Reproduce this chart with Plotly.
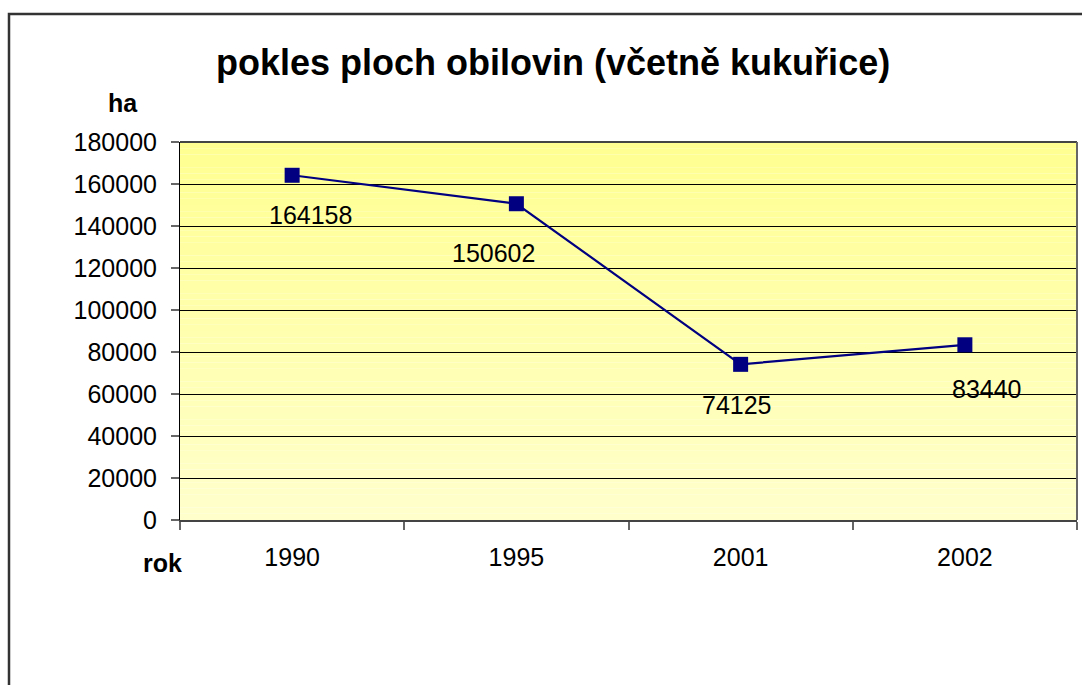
import plotly.graph_objects as go

# Data
years = ["1990", "1995", "2001", "2002"]
area_ha = [164158, 150602, 74125, 83440]
label_dx = [18, -23, -4, 22]
label_dy = [-40, -49, -41, -44]

title_text = "pokles ploch obilovin (včetně kukuřice)"
y_label = "ha"
x_label = "rok"

W, H = 1082, 685
L, R, T, B = 180, 1077, 142, 520  # plot area in px

fig = go.Figure()

fig.add_trace(go.Scatter(
    x=years, y=area_ha, mode="lines+markers",
    line=dict(color="#000080", width=2.2),
    marker=dict(symbol="square", size=15, color="#000080"),
    hoverinfo="skip", showlegend=False,
))

# gradient background bands
n = 60
top = (255, 255, 145)
bot = (255, 255, 204)
shapes = []
for i in range(n):
    t = i / (n - 1)
    c = tuple(int(round(bot[k] + (top[k] - bot[k]) * t)) for k in range(3))
    shapes.append(dict(type="rect", xref="x domain", yref="y domain",
                       x0=0, x1=1, y0=i / n, y1=(i + 1) / n,
                       fillcolor="rgb(%d,%d,%d)" % c, line=dict(width=0), layer="below"))

# outer chart border (left/top visible)
pw, ph = R - L, B - T
def px_x(p):
    return (p - L) / pw
def px_y(p):
    return (B - p) / ph
shapes.append(dict(type="rect", xref="paper", yref="paper",
                   x0=px_x(9), x1=px_x(1095), y0=px_y(700), y1=px_y(14),
                   line=dict(color="#333333", width=2.5), fillcolor="rgba(0,0,0,0)"))
# plot area top / right border
shapes.append(dict(type="line", xref="paper", yref="paper", x0=0, x1=1, y0=1, y1=1,
                   line=dict(color="#444444", width=2)))
shapes.append(dict(type="line", xref="paper", yref="paper", x0=1, x1=1, y0=0, y1=1,
                   line=dict(color="#666666", width=2)))

annotations = []
for i, v in enumerate(area_ha):
    annotations.append(dict(x=i, y=v, xref="x", yref="y", text=str(v), showarrow=False,
                            xshift=label_dx[i], yshift=label_dy[i],
                            xanchor="center", yanchor="middle",
                            font=dict(family="Arial, Liberation Sans", size=25, color="black")))

def label(xp, yp, text, size):
    return dict(x=px_x(xp), y=px_y(yp), xref="paper", yref="paper", text=text,
                showarrow=False, xanchor="center", yanchor="middle",
                font=dict(family="Arial, Liberation Sans", size=size, color="black"))

annotations.append(label(123, 103, "<b>%s</b>" % y_label, 25))
annotations.append(label(162, 563, "<b>%s</b>" % x_label, 25))
annotations.append(label(553, 62, "<b>%s</b>" % title_text, 36))

fig.update_layout(
    width=W, height=H,
    margin=dict(l=L, r=W - R, t=T, b=H - B, autoexpand=False),
    paper_bgcolor="white", plot_bgcolor="rgba(0,0,0,0)",
    font=dict(family="Arial, Liberation Sans", size=25, color="black"),
    shapes=shapes, annotations=annotations, showlegend=False,
)
fig.update_xaxes(
    type="category", range=[-0.5, 3.5], tickson="boundaries", ticks="outside", ticklen=8,
    tickcolor="#666666", tickwidth=2, showline=True, linecolor="#444444", linewidth=2,
    showgrid=False, tickfont=dict(size=25), ticklabelstandoff=14, zeroline=False,
    automargin=False, tickangle=0,
)
fig.update_yaxes(
    range=[0, 180000], dtick=20000, tickformat="d", ticks="outside", ticklen=8, tickcolor="#666666",
    tickwidth=2, showline=True, linecolor="black", linewidth=1, showgrid=True, gridcolor="black",
    gridwidth=1, zeroline=False, tickfont=dict(size=25), ticklabelstandoff=9, automargin=False,
)

fig.write_html("out.html", config={"displayModeBar": False},
               post_script="document.body.style.margin='0';document.body.style.overflow='hidden';")
